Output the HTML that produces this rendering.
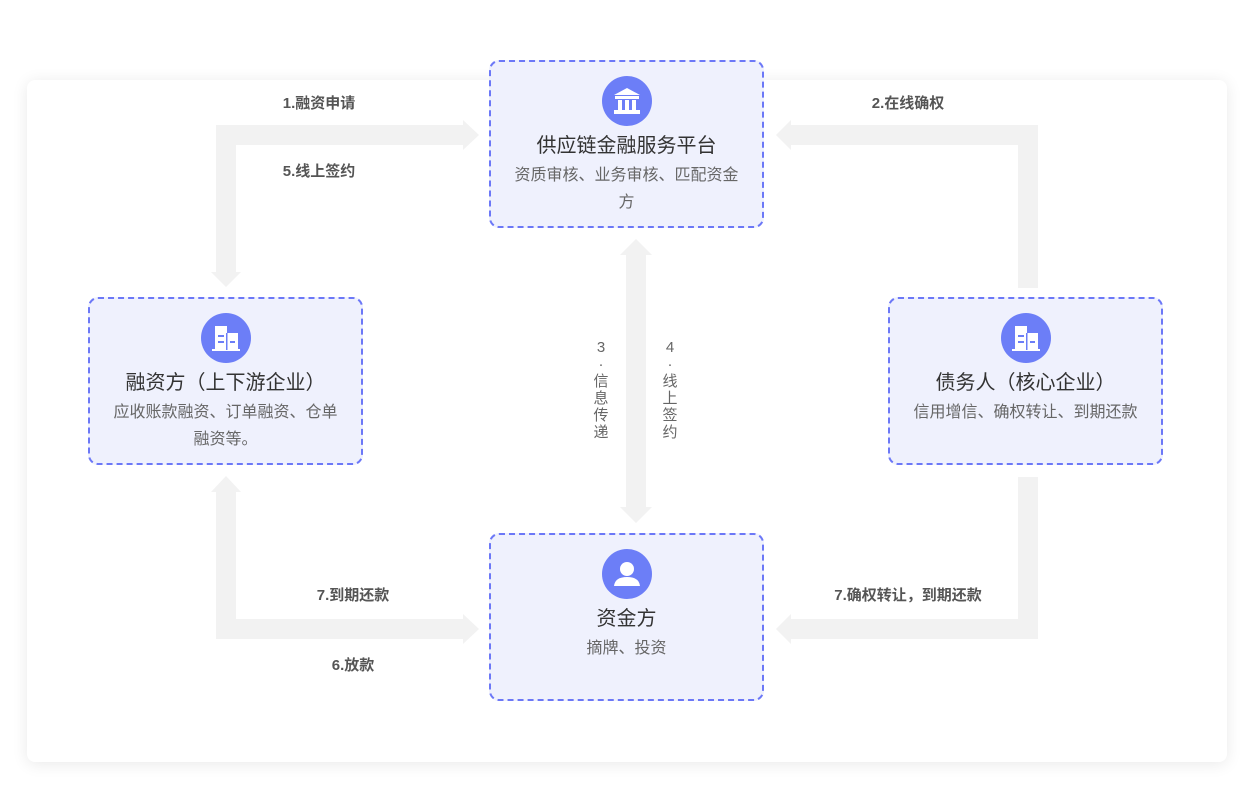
<!DOCTYPE html>
<html><head><meta charset="utf-8"><style>
body{margin:0;width:1254px;height:792px;background:#fff;position:relative;overflow:hidden;font-family:"Liberation Sans","Noto Sans CJK SC",sans-serif}
.card{position:absolute;left:27px;top:80px;width:1200px;height:682px;background:#fff;border-radius:8px;box-shadow:0 2px 16px rgba(0,0,0,0.09)}
.box{position:absolute;width:271px;height:164px;border:2px dashed #6c78f7;border-radius:10px;background:#eff1fd;box-sizing:content-box;text-align:center}
.ic{position:absolute;left:50%;margin-left:-25px;top:14px;width:50px;height:50px;border-radius:50%;background:#6c7ef7}
.t{position:absolute;left:-10px;right:-10px;top:70px;font-size:20px;line-height:28px;color:#333}
.s{position:absolute;left:23px;right:23px;top:100px;font-size:16px;color:#666;line-height:27px}
.lb{position:absolute;font-size:15px;font-weight:bold;color:#555;white-space:nowrap;transform:translateX(-50%)}
.v{position:absolute;font-size:15px;color:#666;width:16px;text-align:center;line-height:17px}
svg.a{position:absolute;left:0;top:0}
</style></head><body>
<div class="card"></div>
<svg class="a" width="1254" height="792">
<g fill="#f2f2f2">
<polygon points="216,125 463,125 463,120 479,135 463,150 463,145 236,145 236,272 241,272 226,287 211,272 216,272"/>
<polygon points="1038,125 791,125 791,120 776,135 791,150 791,145 1018,145 1018,288 1038,288"/>
<polygon points="216,639 463,639 463,644 479,629 463,614 463,619 236,619 236,492 241,492 226,476 211,492 216,492"/>
<polygon points="1038,639 791,639 791,644 776,629 791,614 791,619 1018,619 1018,477 1038,477"/>
<polygon points="626,255 620,255 636,239 652,255 646,255 646,507 652,507 636,523 620,507 626,507"/>
</g>
</svg>
<div class="lb" style="left:319px;top:92px">1.融资申请</div>
<div class="lb" style="left:319px;top:160px">5.线上签约</div>
<div class="lb" style="left:908px;top:92px">2.在线确权</div>
<div class="lb" style="left:353px;top:584px">7.到期还款</div>
<div class="lb" style="left:353px;top:654px">6.放款</div>
<div class="lb" style="left:908px;top:584px">7.确权转让，到期还款</div>
<div class="v" style="left:593px;top:339px">3<br>·<br>信<br>息<br>传<br>递</div>
<div class="v" style="left:662px;top:339px">4<br>·<br>线<br>上<br>签<br>约</div>

<div class="box" style="left:489px;top:60px">
<div class="ic"><svg width="50" height="50"><g fill="#fff"><polygon points="25,12 38,19 12,19"/><rect x="13" y="20" width="24" height="3"/><rect x="16" y="24" width="4" height="10"/><rect x="23" y="24" width="4" height="10"/><rect x="30" y="24" width="4" height="10"/><rect x="12" y="34" width="26" height="4"/></g></svg></div>
<div class="t">供应链金融服务平台</div>
<div class="s">资质审核、业务审核、匹配资金方</div>
</div>

<div class="box" style="left:88px;top:297px">
<div class="ic"><svg width="50" height="50"><g fill="#fff"><rect x="14" y="13" width="12" height="24"/><rect x="26" y="20" width="11" height="17"/><rect x="11" y="36" width="28" height="2"/></g><g fill="#6c7ef7"><rect x="17" y="22" width="6" height="2"/><rect x="17" y="28" width="6" height="2"/><rect x="29" y="28" width="5" height="2"/><rect x="25" y="20" width="1.5" height="17"/></g></svg></div>
<div class="t">融资方（上下游企业）</div>
<div class="s">应收账款融资、订单融资、仓单融资等。</div>
</div>

<div class="box" style="left:888px;top:297px">
<div class="ic"><svg width="50" height="50"><g fill="#fff"><rect x="14" y="13" width="12" height="24"/><rect x="26" y="20" width="11" height="17"/><rect x="11" y="36" width="28" height="2"/></g><g fill="#6c7ef7"><rect x="17" y="22" width="6" height="2"/><rect x="17" y="28" width="6" height="2"/><rect x="29" y="28" width="5" height="2"/><rect x="25" y="20" width="1.5" height="17"/></g></svg></div>
<div class="t">债务人（核心企业）</div>
<div class="s" style="left:10px;right:10px">信用增信、确权转让、到期还款</div>
</div>

<div class="box" style="left:489px;top:533px">
<div class="ic" style="top:14px"><svg width="50" height="50"><g fill="#fff"><circle cx="25" cy="20" r="7"/><path d="M12,37 Q13,28 25,28 Q37,28 38,37 Z"/></g></svg></div>
<div class="t">资金方</div>
<div class="s">摘牌、投资</div>
</div>
</body></html>
